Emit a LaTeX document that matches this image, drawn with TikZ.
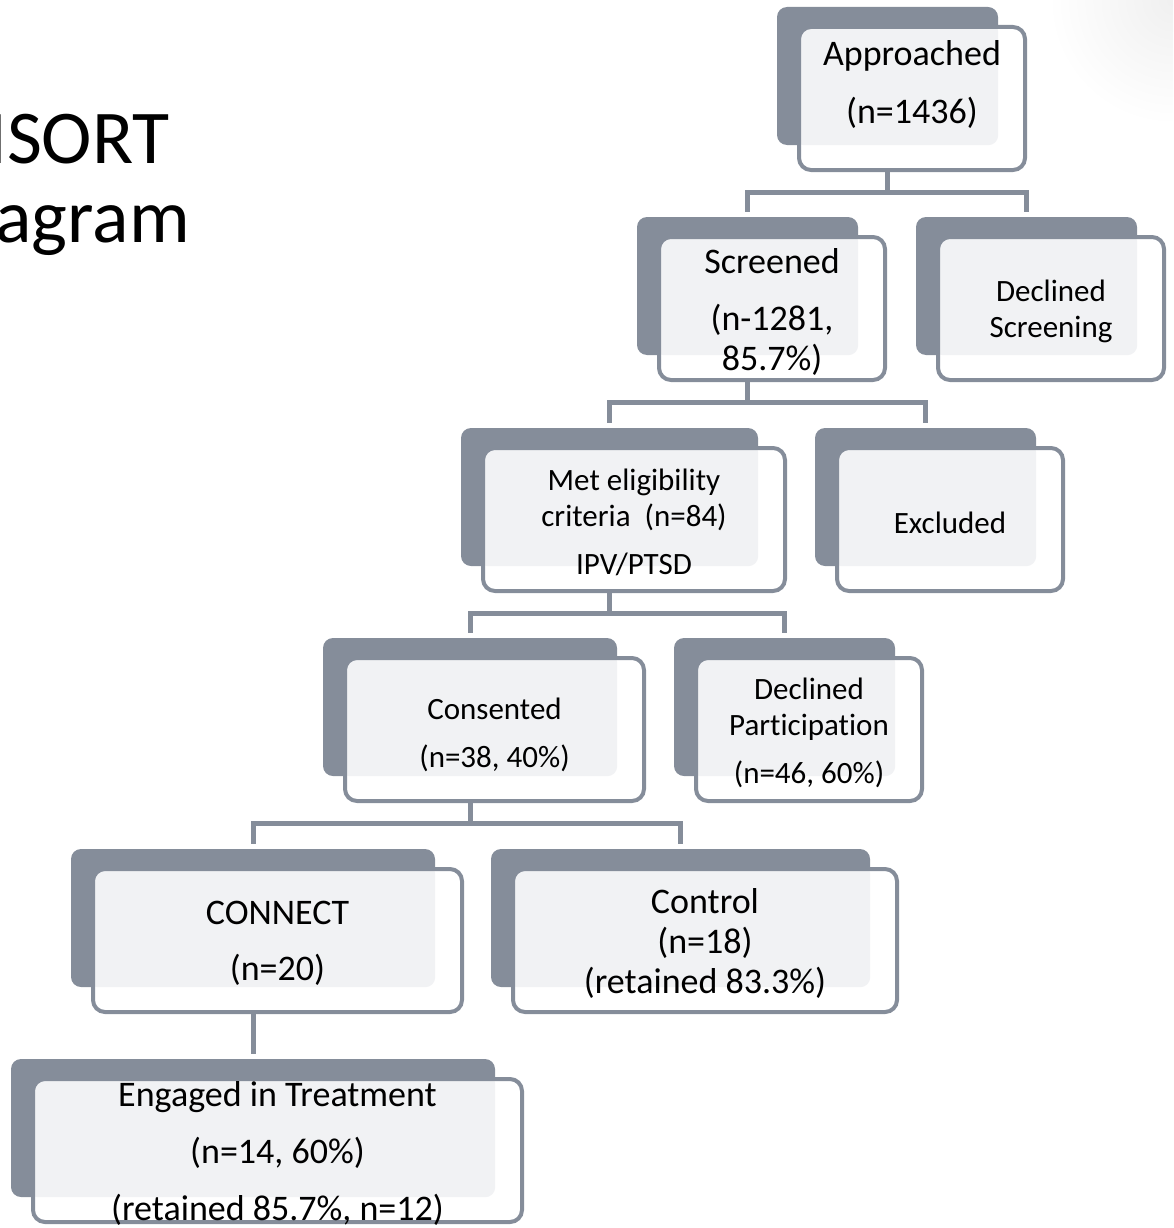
\documentclass[tikz,border=0pt]{standalone}
\usepackage{fontspec}
\setmainfont{Carlito}[Ligatures=NoCommon]

\definecolor{slate}{HTML}{858D9A}
\definecolor{paper}{HTML}{F1F2F4}

\tikzset{
  back/.style={fill=slate, rounded corners=10pt, minimum height=138pt, inner sep=0pt},
  front/.style={draw=slate, line width=4pt, fill=white, rounded corners=12pt,
    minimum height=143pt, inner sep=0pt,
    path picture={\fill[paper, rounded corners=10pt]
      ([shift={(-5pt,5pt)}]path picture bounding box.north west) rectangle (#1.south east);}},
  big/.style={font=\fontsize{36}{40}\selectfont, align=center, yshift=-3pt},
  small/.style={font=\fontsize{31}{36}\selectfont, align=center, yshift=-3pt},
  heading/.style={font=\fontsize{76}{90}\selectfont, inner sep=0pt},
  link/.style={draw=slate, line width=5pt, shorten >=5pt},
}

\begin{document}
\begin{tikzpicture}[x=1pt, y=-1pt]
  \useasboundingbox (0,0) rectangle (1173,1228);
  \begin{scope}
    \clip (0,0) rectangle (1173,1228);
    \shade[inner color=black!6, outer color=white] (1173,0) circle (125);
    % title, cut off by the slide edge
    \node[heading, anchor=base east] (ttlA) at (170,163) {CONSORT};
    \node[heading, anchor=base east] (ttlB) at (190,242) {Diagram};
  \end{scope}

  % level 1
  \node[back, minimum width=221] (apprB) at (887.5,76) {};
  \node[front=apprB, minimum width=226] (appr) at (912,98.5) {};
  \node[big] (apprT) at (912,81) {Approached\\[18pt](n=1436)};

  % level 2
  \node[back, minimum width=221] (scrB) at (747.5,286) {};
  \node[front=scrB, minimum width=226] (scr) at (772,308.5) {};
  \node[big] (scrT) at (scr) {Screened\\[17pt](n-1281,\\85.7\%)};
  \node[back, minimum width=221] (dscrB) at (1026.5,286) {};
  \node[front=dscrB, minimum width=226] (dscr) at (1051,308.5) {};
  \node[small] (dscrT) at (dscr) {Declined\\Screening};

  % level 3
  \node[back, minimum width=297] (eligB) at (609.5,497) {};
  \node[front=eligB, minimum width=302] (elig) at (634,519.5) {};
  \node[small] (eligT) at (elig) {Met eligibility\\criteria\ \ (n=84)\\[12pt]IPV/PTSD};
  \node[back, minimum width=221] (exclB) at (925.5,497) {};
  \node[front=exclB, minimum width=226] (excl) at (950,519.5) {};
  \node[small] (exclT) at (excl) {Excluded};

  % level 4
  \node[back, minimum width=294] (consB) at (470,707) {};
  \node[front=consB, minimum width=299] (cons) at (494.5,729.5) {};
  \node[small] (consT) at ([yshift=-2pt]cons.center) {Consented\\[12pt](n=38, 40\%)};
  \node[back, minimum width=221] (dpartB) at (784.5,707) {};
  \node[front=dpartB, minimum width=226] (dpart) at (809,729.5) {};
  \node[small] (dpartT) at (dpart) {Declined\\Participation\\[12pt](n=46, 60\%)};

  % level 5
  \node[back, minimum width=364] (connB) at (253,918) {};
  \node[front=connB, minimum width=369] (conn) at (277.5,940.5) {};
  \node[big] (connT) at (conn) {CONNECT\\[16pt](n=20)};
  \node[back, minimum width=379] (ctrlB) at (680.5,918) {};
  \node[front=ctrlB, minimum width=384] (ctrl) at (705,940.5) {};
  \node[big] (ctrlT) at (ctrl) {Control\\(n=18)\\(retained 83.3\%)};

  % level 6
  \node[back, minimum width=484] (engB) at (253,1128) {};
  \node[front=engB, minimum width=489] (eng) at (277.5,1150.5) {};
  \node[big] (engT) at (eng) {Engaged in Treatment\\[17pt](n=14, 60\%)\\[17pt](retained 85.7\%, n=12)};

  % connectors
  \draw[link] (apprB.south |- appr.south) -- ++(0,20) -| (scrB.north);
  \draw[link] (apprB.south |- appr.south) -- ++(0,20) -| (dscrB.north);
  \draw[link] (scrB.south |- scr.south) -- ++(0,20) -| (eligB.north);
  \draw[link] (scrB.south |- scr.south) -- ++(0,20) -| (exclB.north);
  \draw[link] (eligB.south |- elig.south) -- ++(0,20) -| (consB.north);
  \draw[link] (eligB.south |- elig.south) -- ++(0,20) -| (dpartB.north);
  \draw[link] (consB.south |- cons.south) -- ++(0,20) -| (connB.north);
  \draw[link] (consB.south |- cons.south) -- ++(0,20) -| (ctrlB.north);
  \draw[link] (connB.south |- conn.south) -- (engB.north);
\end{tikzpicture}
\end{document}
